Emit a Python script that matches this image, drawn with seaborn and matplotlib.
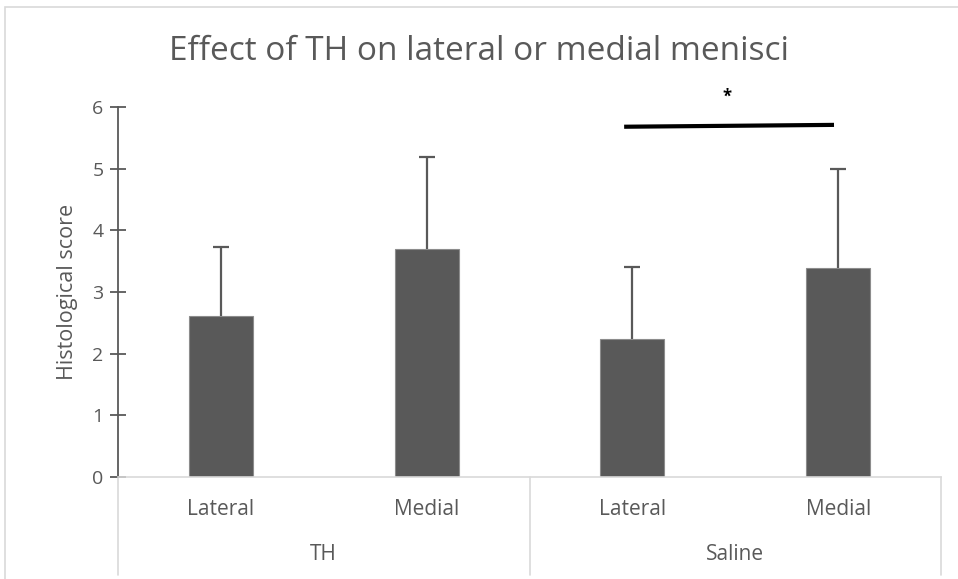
import matplotlib
matplotlib.use('Agg')
import matplotlib.pyplot as plt
import matplotlib.transforms as mtransforms
from matplotlib.patches import Rectangle
import seaborn as sns
import pandas as pd

# values
groups = ['TH', 'Saline']
sides = ['Lateral', 'Medial']
means = [2.61, 3.70, 2.24, 3.39]
sd_upper = [1.12, 1.49, 1.16, 1.61]
y_ticks = [0, 1, 2, 3, 4, 5, 6]
sig_x = [1.96, 2.98]
sig_y = [5.68, 5.71]
sig_star_x = 2.46
sig_star_y = 6.17

grey = '#595959'
light = '#d9d9d9'

sns.set_theme(style='white')
plt.rcParams['font.family'] = ['Open Sans', 'DejaVu Sans']

df = pd.DataFrame({
    'label': [f'{g} {s}' for g in groups for s in sides],
    'score': means,
})

fig = plt.figure(figsize=(9.58, 5.79), dpi=100)
ax = fig.add_axes([118 / 958, 1 - 477 / 579, (941 - 118) / 958, (477 - 107) / 579])

sns.barplot(data=df, x='label', y='score', color=grey, width=0.31,
            saturation=1, errorbar=None, edgecolor='#8c8c8c', linewidth=0.8, ax=ax)
xs = list(range(len(means)))
eb = ax.errorbar(xs, means, yerr=[[0] * len(means), sd_upper], fmt='none',
                 ecolor=grey, elinewidth=1.6, capsize=6, capthick=1.6, zorder=3)
# only the upper cap, like the original
eb[1][0].set_visible(False)

ax.set_xlim(-0.5, len(means) - 0.5)
ax.set_ylim(0, 6)
ax.set_yticks(y_ticks)
ax.set_yticklabels([str(t) for t in y_ticks], color=grey, fontsize=14)
ax.tick_params(axis='y', direction='inout', length=11, width=1.3, color=grey, pad=5, left=True)
ax.set_ylabel('Histological score', color=grey, fontsize=15.5, labelpad=10)
ax.set_xlabel('')

# hierarchical category axis
ax.set_xticks(xs)
ax.set_xticklabels(sides * len(groups), color=grey, fontsize=15)
ax.tick_params(axis='x', length=0, pad=16)
trans = mtransforms.blended_transform_factory(ax.transData, ax.transAxes)
for i, g in enumerate(groups):
    ax.text(i * 2 + 0.5, -(555 - 477) / 370, g, transform=trans, ha='center', va='center',
            color=grey, fontsize=15)
for xb in [-0.5, 1.5, 3.5]:
    ax.plot([xb, xb], [0, -0.265], transform=trans, color=light, lw=1.2, clip_on=False)

for side in ['top', 'right']:
    ax.spines[side].set_visible(False)
ax.spines['bottom'].set_color(light)
ax.spines['bottom'].set_linewidth(1.2)
ax.spines['left'].set_color(grey)
ax.spines['left'].set_linewidth(1.3)

# significance bracket
ax.plot(sig_x, sig_y, color='black', lw=3, clip_on=False, solid_capstyle='butt')
ax.text(sig_star_x, sig_star_y, '*', ha='center', va='center', fontsize=12,
        color='black', fontweight='bold', clip_on=False)

fig.text(0.5, 1 - 51 / 579, 'Effect of TH on lateral or medial menisci',
         ha='center', va='center', color=grey, fontsize=24)

fig.add_artist(Rectangle((5 / 958, -0.05), 1.1, 1 - 7 / 579 + 0.05,
                         transform=fig.transFigure, fill=False,
                         edgecolor=light, lw=1.2))

fig.savefig('out.png', dpi=100)
